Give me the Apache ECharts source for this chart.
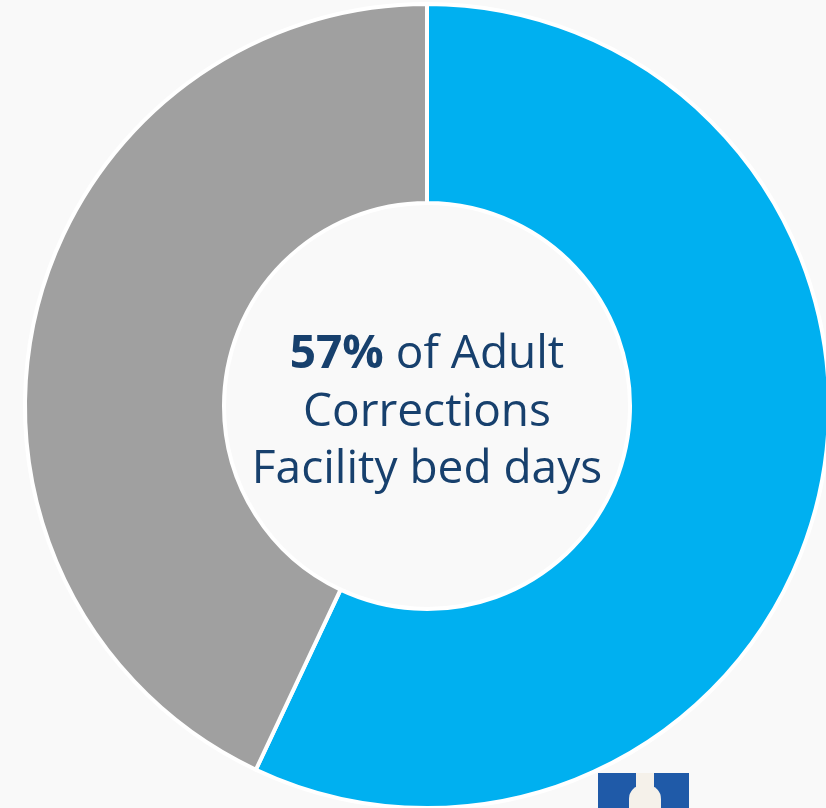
<!DOCTYPE html>
<html>
<head>
<meta charset="utf-8">
<script src="https://cdn.jsdelivr.net/npm/echarts@6/dist/echarts.min.js"></script>
<style>
  html, body { margin: 0; padding: 0; background: #F9F9F9; }
  #chart { width: 826px; height: 808px; }
</style>
</head>
<body>
<div id="chart"></div>
<script>
// Share of adult corrections facility bed days
const categories = ['Share', 'Remainder'];
const values = [57, 43];
const colors = ['#00B0F0', '#A0A0A0'];
const centerLines = ['of Adult', 'Corrections', 'Facility bed days'];

const chart = echarts.init(document.getElementById('chart'), null, { renderer: 'canvas' });

const textColor = '#17406D';
const fontFamily = '"Open Sans", "Noto Sans", sans-serif';
const fontSize = 46;
const cx = 427;
// top of each text line box
const lineTops = [332, 390, 447];

chart.setOption({
  backgroundColor: '#F9F9F9',
  animation: false,
  series: [{
    type: 'pie',
    center: [cx, 406],
    radius: [203, 402],
    startAngle: 90,
    clockwise: true,
    label: { show: false },
    labelLine: { show: false },
    emphasis: { disabled: true },
    itemStyle: { borderColor: '#FFFFFF', borderWidth: 4 },
    data: categories.map((name, i) => ({
      name,
      value: values[i],
      itemStyle: { color: colors[i] }
    }))
  }],
  graphic: [
    {
      type: 'text',
      x: cx,
      y: lineTops[0],
      style: {
        text: '{b|' + values[0] + '%}{r| ' + centerLines[0] + '}',
        align: 'center',
        verticalAlign: 'top',
        rich: {
          b: { fontSize, fontWeight: 'bold', fontFamily, fill: textColor },
          r: { fontSize, fontFamily, fill: textColor }
        }
      }
    },
    {
      type: 'text',
      x: cx,
      y: lineTops[1],
      style: { text: centerLines[1], align: 'center', verticalAlign: 'top', fontSize, fontFamily, fill: textColor }
    },
    {
      type: 'text',
      x: cx,
      y: lineTops[2],
      style: { text: centerLines[2], align: 'center', verticalAlign: 'top', fontSize, fontFamily, fill: textColor }
    },
    // partial logo at the lower right
    {
      type: 'group',
      x: 598,
      y: 773,
      children: [
        { type: 'rect', shape: { x: 0, y: 0, width: 91, height: 40 }, style: { fill: '#1F5AA8' } },
        { type: 'rect', shape: { x: 31, y: 12, width: 32, height: 30, r: [14, 14, 0, 0] }, style: { fill: '#F5F1EA' } },
        { type: 'rect', shape: { x: 38, y: 0, width: 18, height: 14 }, style: { fill: '#F5F1EA' } }
      ]
    }
  ]
});
</script>
</body>
</html>
